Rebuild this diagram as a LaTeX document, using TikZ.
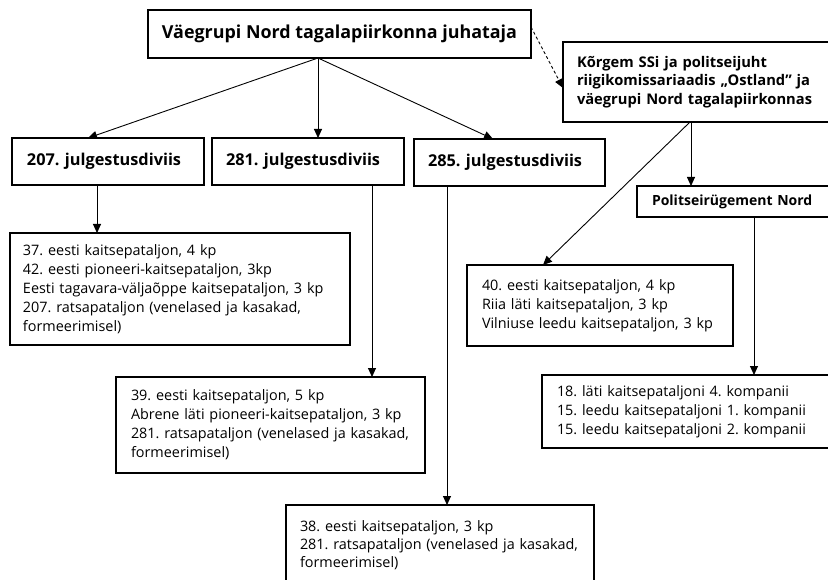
\documentclass[tikz,border=0pt]{standalone}
\usepackage{fontspec}
\setmainfont{Open Sans}
\usetikzlibrary{arrows.meta,calc}
\frenchspacing
\tikzset{
  box/.style={draw,line width=1.1pt,anchor=north west,inner ysep=0pt,outer sep=0pt},
  lbox/.style={box,align=left,font=\frenchspacing\fontsize{14.4}{19}\selectfont},
  dbox/.style={box,align=left,font=\frenchspacing\bfseries\fontsize{16.3}{19}\selectfont},
  conn/.style={line width=0.9pt,-{Triangle[length=9pt,width=8pt]}},
  dconn/.style={conn,dash pattern=on 3pt off 2.5pt}
}
\newcommand{\bx}[8]{% style, name, x1, y1, x2, y2, inset, text
  \pgfmathsetmacro{\bw}{#5-#3}\pgfmathsetmacro{\bh}{#6-#4}\pgfmathsetmacro{\tw}{#5-#3-2*#7}%
  \node[#1,minimum width=\bw pt,minimum height=\bh pt,text width=\tw pt,inner xsep=#7pt] (#2) at (#3,#4) {#8};}
\begin{document}
\begin{tikzpicture}[x=1pt,y=-1pt]
\useasboundingbox (0,0) rectangle (828,580);
\fill[white] (0,0) rectangle (828,580);
\clip (0,0) rectangle (828,580);
% top
\node[box,minimum width=383pt,minimum height=48pt,font=\frenchspacing\bfseries\fontsize{17.9}{20}\selectfont] (top) at (148,10) {Väegrupi Nord tagalapiirkonna juhataja};
\bx{box,align=left,font=\frenchspacing\bfseries\fontsize{14.7}{18.5}\selectfont}{ssi}{563}{42}{845}{122}{14}{Kõrgem SSi ja politseijuht\\riigikomissariaadis „Ostland” ja\\väegrupi Nord tagalapiirkonnas}
\bx{dbox}{d207}{12}{138}{204}{185}{15}{\mbox{207. julgestusdiviis}}
\bx{dbox}{d281}{212}{138}{404}{185}{14}{\mbox{281. julgestusdiviis}}
\bx{dbox}{d285}{414}{139}{605}{186}{14}{\mbox{285. julgestusdiviis}}
\bx{box,align=left,font=\frenchspacing\bfseries\fontsize{14}{16}\selectfont}{pol}{637}{186}{845}{217}{15}{Politseirügement Nord}
\bx{lbox}{s207}{10}{233}{350}{345}{13}{37. eesti kaitsepataljon, 4 kp\\42. eesti pioneeri-kaitsepataljon, 3kp\\Eesti tagavara-väljaõppe kaitsepataljon, 3 kp\\207. ratsapataljon (venelased ja kasakad,\\formeerimisel)}
\bx{lbox}{s40}{467}{265}{733}{346}{15}{40. eesti kaitsepataljon, 4 kp\\Riia läti kaitsepataljon, 3 kp\\Vilniuse leedu kaitsepataljon, 3 kp}
\bx{lbox}{s39}{116}{377}{425}{473}{15}{39. eesti kaitsepataljon, 5 kp\\Abrene läti pioneeri-kaitsepataljon, 3 kp\\281. ratsapataljon (venelased ja kasakad,\\formeerimisel)}
\bx{lbox}{s18}{542}{375}{845}{448}{15}{18. läti kaitsepataljoni 4. kompanii\\15. leedu kaitsepataljoni 1. kompanii\\15. leedu kaitsepataljoni 2. kompanii}
\node[lbox,font=\frenchspacing\fontsize{14.4}{18}\selectfont,minimum width=308pt,minimum height=80pt,text width=280pt,inner xsep=14pt,anchor=north west] (s285) at (286,505) {38. eesti kaitsepataljon, 3 kp\\281. ratsapataljon (venelased ja kasakad,\\formeerimisel)};
% connectors
\coordinate (o) at ($(top.south west)+(170,0)$);
\draw[conn] (o) -- ($(d207.north west)+(76,0)$);
\draw[conn] (o) -- (o |- d281.north);
\draw[conn] (o) -- ($(d285.north west)+(79,0)$);
\draw[dconn] ($(top.north east)+(0,17)$) -- ($(ssi.north west)+(0,46)$);
\draw[conn] ($(d207.south west)+(85,0)$) -- ($(s207.north west)+(87,0)$);
\draw[conn] ($(d281.south west)+(160,0)$) -- ($(s39.north west)+(256,0)$);
\draw[conn] ($(d285.south west)+(33,0)$) -- ($(s285.north west)+(161,0)$);
\draw[conn] ($(ssi.south west)+(127,0)$) -- ($(s40.north west)+(76,0)$);
\draw[conn] ($(ssi.south west)+(128,0)$) -- ($(pol.north west)+(54,0)$);
\draw[conn] ($(pol.south west)+(117,0)$) -- ($(s18.north west)+(212,0)$);
\end{tikzpicture}
\end{document}
